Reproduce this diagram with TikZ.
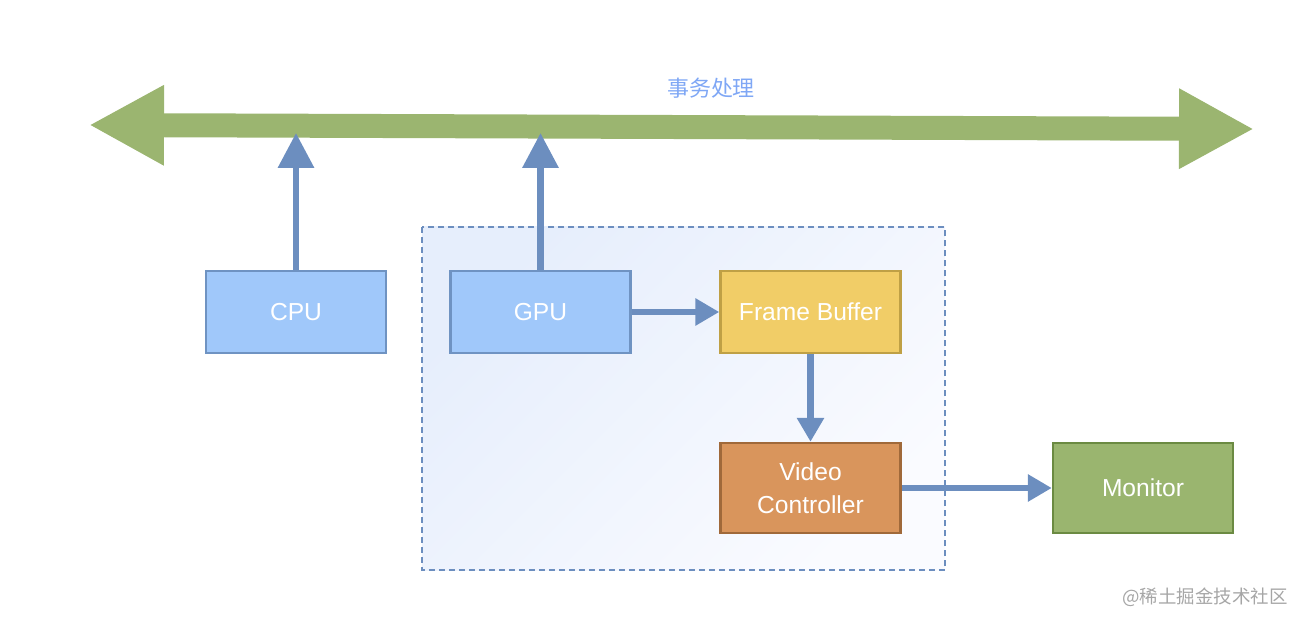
\documentclass[tikz,border=0pt]{standalone}
\usepackage{fontspec}
\setmainfont{Liberation Sans}
\newfontfamily\cjk{Noto Sans CJK SC}
\usepackage{tikz}
\usetikzlibrary{arrows.meta}
\definecolor{busgreen}{HTML}{9BB570}
\definecolor{linkblue}{HTML}{6C8EBF}
\definecolor{cpufill}{HTML}{A0C8FA}
\definecolor{cpuline}{HTML}{6F93C2}
\definecolor{fbfill}{HTML}{F1CD67}
\definecolor{fbline}{HTML}{BFA045}
\definecolor{vcfill}{HTML}{D9955C}
\definecolor{vcline}{HTML}{A0693A}
\definecolor{monfill}{HTML}{9AB56F}
\definecolor{monline}{HTML}{6B8A42}
\definecolor{labelblue}{HTML}{7FA7F5}
\definecolor{contA}{HTML}{E6EEFC}
\definecolor{contB}{HTML}{FAFBFF}
\tikzset{
  unitbox/.style={draw=cpuline,fill=cpufill,line width=1.4pt,text=white,
    minimum width=3.6cm,minimum height=1.64cm,align=center,
    font=\fontsize{14}{19}\selectfont},
  bigtip/.style={-{Triangle[length=0.7cm,width=0.7cm]},linkblue,line width=0.13cm},
  smalltip/.style={-{Triangle[length=0.48cm,width=0.52cm]},linkblue,line width=0.13cm}
}

\begin{document}
\begin{tikzpicture}[x=0.02cm,y=-0.02cm]
      \useasboundingbox (0,0) rectangle (1304,624);

      % container
      \shade[left color=contA,right color=contB,shading angle=45]
        (422,227) rectangle (945,570);
      \draw[linkblue,line width=1.3pt,dash pattern=on 0.12cm off 0.08cm]
        (422,227) rectangle (945,570);

      % bus
      \coordinate (busL) at (89,125);
      \coordinate (busR) at (1254,129);
      \draw[busgreen,line width=0.48cm,
        {Triangle[length=1.5cm,width=1.5cm]}-{Triangle[length=1.5cm,width=1.5cm]}]
        (busL) -- (busR);
      \node[text=labelblue,font=\cjk\fontsize{12.5}{15}\selectfont] (buslabel) at (711,88) {事务处理};

      % units
      \node[unitbox] (cpu) at (296,312) {CPU};
      \node[unitbox] (gpu) at (540.5,312) {GPU};
      \node[unitbox,fill=fbfill,draw=fbline] (fb) at (810.5,312) {Frame Buffer};
      \node[unitbox,fill=vcfill,draw=vcline,minimum height=1.8cm] (vc) at (810.5,488)
        {Video\\Controller};
      \node[unitbox,fill=monfill,draw=monline,minimum height=1.8cm] (mon) at (1143,488) {Monitor};

      % links
      \coordinate (cpuhit) at (296,133);
      \coordinate (gpuhit) at (540.5,133);
      \draw[bigtip] (cpu.north) -- (cpuhit);
      \draw[bigtip] (gpu.north) -- (gpuhit);
      \draw[smalltip] (gpu.east) -- (fb.west);
      \draw[smalltip] (fb.south) -- (vc.north);
      \draw[smalltip] (vc.east) -- (mon.west);

      \node[text=black!35,font=\cjk\fontsize{10.5}{13}\selectfont] (mark) at (1205,597) {@稀土掘金技术社区};

    \end{tikzpicture}
\end{document}
